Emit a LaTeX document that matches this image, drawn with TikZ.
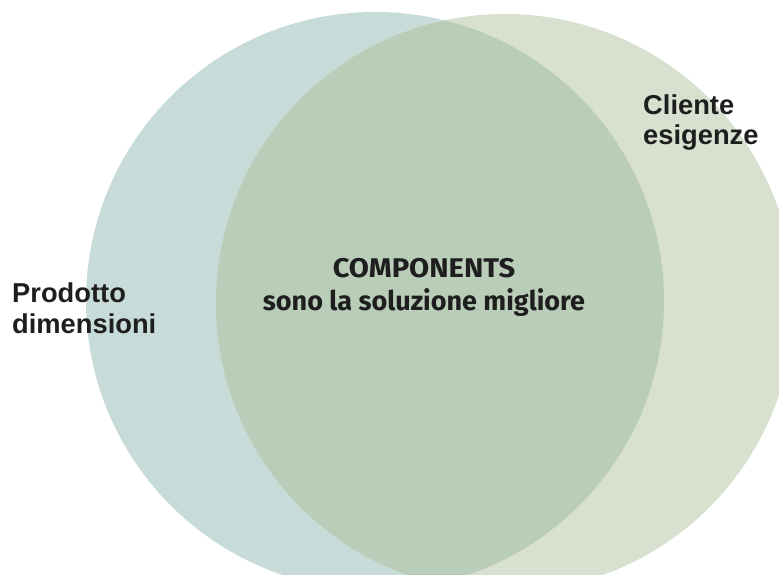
\documentclass[tikz,border=0pt]{standalone}
\usepackage{fontspec}
\setmainfont{Liberation Sans}
\newfontfamily\compfont{Fira Sans}
\definecolor{leftc}{HTML}{C7DBD8}
\definecolor{rightc}{HTML}{D8E0CF}
\definecolor{overc}{HTML}{B9CDB9}
\definecolor{txt}{HTML}{1E1E1E}
\tikzset{
  sidelabel/.style={inner sep=0pt, align=left, text=txt, font=\fontsize{27.3}{30.5}\selectfont\bfseries},
  centerlabel/.style={inner sep=0pt, align=center, text=txt, font=\fontsize{27}{33}\selectfont\compfont\bfseries}
}
\begin{document}
\begin{tikzpicture}[x=1pt,y=-1pt]
\useasboundingbox (0,0) rectangle (779,574);
\clip (0,0) rectangle (779,574);
\coordinate (cl) at (375,301);
\coordinate (cr) at (505,303);
\fill[leftc] (cl) circle[radius=289pt];
\fill[rightc] (cr) circle[radius=289pt];
\begin{scope}
  \clip (cl) circle[radius=289pt];
  \fill[overc] (cr) circle[radius=289pt];
\end{scope}
\node[sidelabel, anchor=north west] (prod) at (12,283) {Prodotto\\dimensioni};
\node[sidelabel, anchor=north west] (cli) at (643,94.5) {Cliente\\esigenze};
\node[centerlabel, anchor=north] (comp) at (424,258) {\scalebox{1.08}[1]{COMPONENTS}\\sono la soluzione migliore};
\end{tikzpicture}
\end{document}
